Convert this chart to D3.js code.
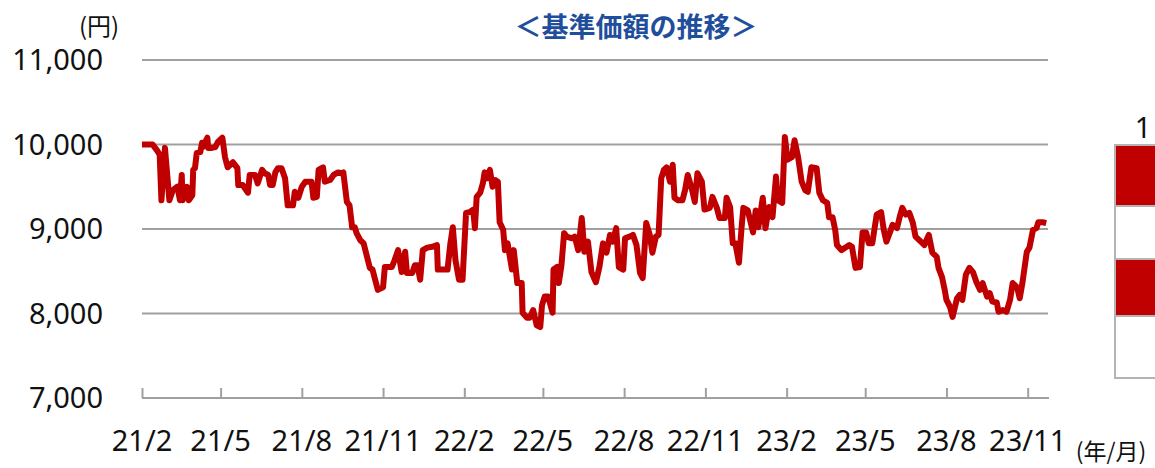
<!DOCTYPE html>
<html>
<head>
<meta charset="utf-8">
<script src="https://cdn.jsdelivr.net/npm/d3@7"></script>
<style>
  html, body { margin: 0; padding: 0; background: #fff; }
  svg { display: block; }
</style>
</head>
<body>
<svg id="chart" width="1155" height="468"></svg>
<script>
const startDate = "2021-02-01";
const endDate = "2023-11-24";

// days since startDate, and the fund's NAV (yen) on that day
const days = [0, 12, 17, 20, 22, 26, 31, 35, 40, 43, 45, 46, 51, 53, 57, 58, 60, 62, 66, 68, 69, 74, 75, 79, 83, 86, 91, 94, 97, 103,
  108, 109, 114, 120, 122, 128, 131, 136, 139, 143, 145, 148, 151, 154, 158, 162, 165, 171, 173, 177, 181, 185, 192, 194, 198, 200, 205, 207, 213, 217,
  222, 226, 228, 232, 235, 238, 241, 243, 247, 251, 258, 261, 267, 273, 275, 283, 286, 290, 294, 298, 300, 306, 309, 312, 315, 318, 323, 329, 334, 335,
  346, 349, 352, 355, 359, 363, 367, 371, 375, 377, 379, 383, 386, 388, 391, 394, 397, 400, 403, 405, 409, 411, 414, 419, 421, 425, 430, 431, 436, 439,
  443, 447, 451, 453, 456, 460, 465, 466, 470, 472, 475, 478, 481, 487, 490, 494, 498, 501, 505, 509, 514, 518, 522, 526, 530, 533, 537, 540, 545, 547,
  552, 556, 560, 564, 567, 571, 575, 578, 582, 585, 588, 591, 594, 598, 601, 603, 607, 612, 615, 618, 623, 626, 629, 634, 637, 643, 646, 651, 654, 660,
  662, 666, 669, 672, 676, 679, 681, 686, 692, 695, 698, 703, 706, 710, 714, 718, 720, 725, 728, 731, 736, 739, 743, 747, 751, 754, 758, 764, 767, 771,
  776, 778, 782, 785, 787, 792, 798, 801, 804, 808, 813, 816, 820, 823, 827, 832, 837, 840, 843, 848, 850, 855, 858, 861, 865, 869, 873, 876, 882, 886,
  891, 895, 900, 902, 906, 909, 911, 915, 918, 923, 926, 929, 933, 937, 941, 945, 949, 952, 957, 960, 963, 968, 970, 975, 979, 983, 986, 991, 994, 997,
  1002, 1005, 1009, 1013, 1015, 1020, 1024];

const navs = [10000, 10000, 9930, 9880, 9340, 9960, 9340, 9460, 9500, 9340, 9640, 9340, 9500, 9340, 9400, 9700, 9720, 9900, 9910, 10020, 9970, 10080, 9960, 9960, 9970, 10030, 10080, 9850, 9730, 9790,
  9720, 9520, 9520, 9430, 9640, 9640, 9540, 9700, 9660, 9640, 9520, 9520, 9670, 9720, 9720, 9600, 9280, 9280, 9440, 9370, 9500, 9560, 9560, 9370, 9380, 9700, 9730, 9560, 9580, 9640,
  9670, 9660, 9670, 9320, 9280, 9020, 9020, 8950, 8870, 8830, 8540, 8520, 8280, 8310, 8550, 8550, 8630, 8750, 8490, 8730, 8480, 8480, 8570, 8570, 8400, 8750, 8780, 8790, 8810, 8520,
  8520, 8810, 9020, 8630, 8400, 8400, 9190, 9200, 9230, 9010, 9380, 9430, 9540, 9670, 9600, 9700, 9500, 9580, 9560, 9080, 8990, 8750, 8830, 8520, 8750, 8360, 8360, 8010, 7950, 7950,
  8040, 7860, 7840, 8100, 8200, 8200, 8010, 8520, 8550, 8360, 8570, 8950, 8910, 8890, 8910, 8750, 9130, 8730, 8850, 8490, 8370, 8550, 8830, 8720, 8930, 8850, 9010, 8550, 8520, 8890,
  8910, 8930, 8810, 8480, 8420, 9070, 8930, 8720, 8910, 8930, 9600, 9700, 9730, 9560, 9760, 9370, 9340, 9340, 9460, 9640, 9460, 9320, 9660, 9560, 9230, 9250, 9380, 9250, 9130, 9130,
  9370, 9260, 8830, 8830, 8600, 9020, 9250, 9220, 8960, 9220, 9020, 9370, 9010, 9260, 9140, 9620, 9340, 9310, 10090, 9820, 9850, 10050, 9850, 9560, 9460, 9440, 9730, 9720, 9430, 9340,
  9310, 9140, 9140, 8990, 8810, 8750, 8790, 8810, 8790, 8540, 8550, 8960, 8960, 8830, 8830, 9170, 9200, 8990, 8850, 8990, 9050, 9010, 9140, 9250, 9170, 9190, 9070, 8910, 8850, 8810,
  8930, 8720, 8670, 8540, 8430, 8280, 8160, 8080, 7960, 8180, 8220, 8160, 8460, 8540, 8490, 8370, 8280, 8360, 8200, 8240, 8140, 8130, 8020, 8040, 8020, 8160, 8360, 8310, 8180, 8360,
  8730, 8780, 8990, 9010, 9080, 9080, 9070];

const yTicks = [7000, 8000, 9000, 10000, 11000];
const xTickDates = ["2021-02-01", "2021-05-01", "2021-08-01", "2021-11-01", "2022-02-01", "2022-05-01",
  "2022-08-01", "2022-11-01", "2023-02-01", "2023-05-01", "2023-08-01", "2023-11-01"];
const xTickLabels = ["21/2", "21/5", "21/8", "21/11", "22/2", "22/5", "22/8", "22/11", "23/2", "23/5", "23/8", "23/11"];

const svg = d3.select("#chart");
const numFont = "'Noto Sans', 'Open Sans', sans-serif";
const jpFont = "'Noto Sans CJK JP', sans-serif";
const gridColor = "#a0a0a0";

const parse = d3.utcParse("%Y-%m-%d");
const t0 = parse(startDate);
const series = days.map((d, i) => ({ date: d3.utcDay.offset(t0, d), value: navs[i] }));

const x = d3.scaleUtc()
  .domain([t0, parse(endDate)])
  .range([142, 1048]);

const y = d3.scaleLinear()
  .domain([7000, 11000])
  .range([398, 60]);

// gridlines
svg.append("g")
  .selectAll("line")
  .data(yTicks.slice(1))
  .join("line")
  .attr("x1", 142)
  .attr("x2", 1048)
  .attr("y1", d => y(d))
  .attr("y2", d => y(d))
  .attr("stroke", gridColor)
  .attr("stroke-width", 2);

// y labels
svg.append("g")
  .selectAll("text")
  .data(yTicks)
  .join("text")
  .attr("x", 103)
  .attr("y", d => y(d))
  .attr("dy", "0.36em")
  .attr("text-anchor", "end")
  .attr("font-family", numFont)
  .attr("font-size", 29)
  .attr("fill", "#111")
  .text(d3.format(","));

// x axis, ticks pointing up
const xAxis = d3.axisTop(x)
  .tickValues(xTickDates.map(parse))
  .tickSize(10)
  .tickSizeOuter(0)
  .tickFormat("");

const gx = svg.append("g")
  .attr("transform", `translate(0,${y(7000)})`)
  .call(xAxis);
gx.select(".domain").attr("stroke", gridColor).attr("stroke-width", 2)
  .attr("d", `M142,0H1049`);
gx.selectAll(".tick line").attr("stroke", gridColor).attr("stroke-width", 2);

svg.append("g")
  .selectAll("text")
  .data(xTickDates)
  .join("text")
  .attr("x", d => x(parse(d)))
  .attr("y", 451)
  .attr("text-anchor", "middle")
  .attr("font-family", numFont)
  .attr("font-size", 29)
  .attr("fill", "#111")
  .text((d, i) => xTickLabels[i]);

// NAV line
const line = d3.line()
  .x(d => x(d.date))
  .y(d => y(d.value));

svg.append("path")
  .datum(series)
  .attr("d", line)
  .attr("fill", "none")
  .attr("stroke", "#c00000")
  .attr("stroke-width", 6)
  .attr("stroke-linejoin", "round");

// unit labels and title
svg.append("text")
  .attr("x", 99).attr("y", 35)
  .attr("text-anchor", "middle")
  .attr("font-family", jpFont)
  .attr("font-size", 24)
  .attr("fill", "#111")
  .text("(円)");

svg.append("text")
  .attr("x", 1111).attr("y", 460)
  .attr("text-anchor", "middle")
  .attr("font-family", jpFont)
  .attr("font-size", 23)
  .attr("fill", "#111")
  .text("(年/月)");

svg.append("text")
  .attr("x", 636).attr("y", 37)
  .attr("text-anchor", "middle")
  .attr("font-family", jpFont)
  .attr("font-weight", "bold")
  .attr("font-size", 27)
  .attr("fill", "#1f4e9c")
  .text("＜基準価額の推移＞");

// partial table at the right edge
const rows = [
  { y0: 145, y1: 206, fill: "#c00000" },
  { y0: 206, y1: 259, fill: "#ffffff" },
  { y0: 259, y1: 316, fill: "#c00000" },
  { y0: 316, y1: 378, fill: "#ffffff" }
];
svg.append("g")
  .selectAll("rect")
  .data(rows)
  .join("rect")
  .attr("x", 1115)
  .attr("y", d => d.y0)
  .attr("width", 60)
  .attr("height", d => d.y1 - d.y0)
  .attr("fill", d => d.fill)
  .attr("stroke", "#b4b4b4")
  .attr("stroke-width", 2);

svg.append("text")
  .attr("x", 1143).attr("y", 138)
  .attr("text-anchor", "middle")
  .attr("font-family", numFont)
  .attr("font-size", 29)
  .attr("fill", "#111")
  .text("1");
</script>
</body>
</html>
